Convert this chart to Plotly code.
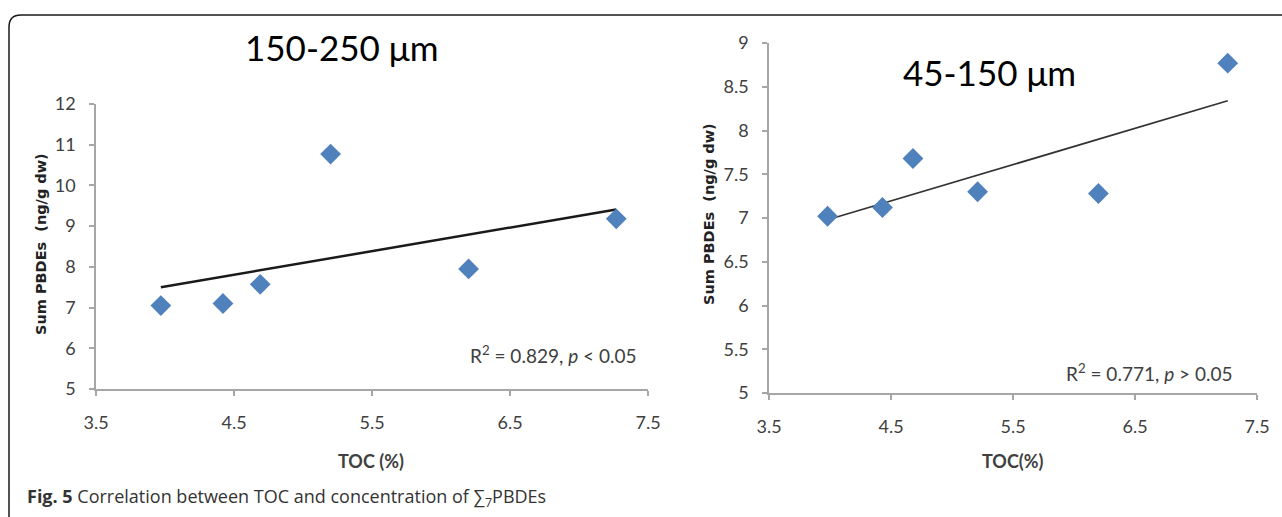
import plotly.graph_objects as go

# ---- data ----
toc_left = [3.97, 4.42, 4.69, 5.20, 6.20, 7.27]
pbde_left = [7.05, 7.10, 7.57, 10.77, 7.95, 9.18]
trend_left_x = [3.97, 7.27]
trend_left_y = [7.50, 9.41]

toc_right = [3.98, 4.43, 4.68, 5.21, 6.20, 7.26]
pbde_right = [7.02, 7.12, 7.68, 7.30, 7.28, 8.77]
trend_right_x = [3.98, 7.26]
trend_right_y = [6.98, 8.34]

x_ticks = [3.5, 4.5, 5.5, 6.5, 7.5]
y_ticks_left = [5, 6, 7, 8, 9, 10, 11, 12]
y_ticks_right = [5, 5.5, 6, 6.5, 7, 7.5, 8, 8.5, 9]

title_left = "150-250 μm"
title_right = "45-150 μm"
ann_left = "R<sup>2</sup> = 0.829, <i>p</i> < 0.05"
ann_right = "R<sup>2</sup> = 0.771, <i>p</i> > 0.05"
ytitle = "Sum PBDEs  (ng/g dw)"
xtitle_left = "TOC (%)"
xtitle_right = "TOC(%)"
caption = "<b>Fig. 5</b> Correlation between TOC and concentration of ∑<sub>7</sub>PBDEs"

W, H = 1282, 517
MARK = "#4F81BD"
AX = "#A6A6A6"
TXT = "#404040"
FONT = "Lato"

def px(x):
    return x / W

def py(y):
    return 1 - y / H

fig = go.Figure()

fig.add_trace(go.Scatter(x=trend_left_x, y=trend_left_y, mode="lines",
                         line=dict(color="#1a1a1a", width=2.5),
                         xaxis="x", yaxis="y", showlegend=False, hoverinfo="skip"))
fig.add_trace(go.Scatter(x=toc_left, y=pbde_left, mode="markers",
                         marker=dict(symbol="diamond", size=16, color=MARK),
                         xaxis="x", yaxis="y", showlegend=False))
fig.add_trace(go.Scatter(x=trend_right_x, y=trend_right_y, mode="lines",
                         line=dict(color="#333333", width=1.8),
                         xaxis="x2", yaxis="y2", showlegend=False, hoverinfo="skip"))
fig.add_trace(go.Scatter(x=toc_right, y=pbde_right, mode="markers",
                         marker=dict(symbol="diamond", size=16, color=MARK),
                         xaxis="x2", yaxis="y2", showlegend=False))

axis_common = dict(showline=True, linecolor=AX, linewidth=1.5, ticks="outside",
                   ticklen=5, tickcolor=AX, tickwidth=1.5, showgrid=False,
                   zeroline=False, automargin=False,
                   tickfont=dict(family=FONT, size=18, color=TXT),
                   fixedrange=True)

fig.update_layout(
    width=W, height=H,
    margin=dict(l=0, r=0, t=0, b=0, autoexpand=False),
    paper_bgcolor="white", plot_bgcolor="white",
    xaxis=dict(domain=[px(96), px(648)], range=[3.5, 7.5], tickvals=x_ticks,
               anchor="y", ticklabelstandoff=12, **axis_common),
    yaxis=dict(domain=[py(389), py(104)], range=[5, 12], tickvals=y_ticks_left,
               anchor="x", ticklabelstandoff=10, **axis_common),
    xaxis2=dict(domain=[px(769), px(1257)], range=[3.5, 7.5], tickvals=x_ticks,
                anchor="y2", ticklabelstandoff=12, **axis_common),
    yaxis2=dict(domain=[py(393), py(43)], range=[5, 9], tickvals=y_ticks_right,
                anchor="x2", ticklabelstandoff=10, **axis_common),
)

annots = [
    dict(text=title_left, x=px(341), y=py(47), font=dict(family=FONT, size=35, color="black")),
    dict(text=title_right, x=px(989), y=py(72), font=dict(family=FONT, size=35, color="black")),
    dict(text=ann_left, x=px(553), y=py(354), font=dict(family=FONT, size=19, color=TXT)),
    dict(text=ann_right, x=px(1149), y=py(372), font=dict(family=FONT, size=19, color=TXT)),
    dict(text="<b>" + xtitle_left + "</b>", x=px(371), y=py(461), font=dict(family=FONT, size=18, color=TXT)),
    dict(text="<b>" + xtitle_right + "</b>", x=px(1013), y=py(461), font=dict(family=FONT, size=18, color=TXT)),
    dict(text="<b>" + ytitle + "</b>", x=px(41), y=py(244), textangle=-90,
         font=dict(family="DejaVu Sans", size=14.5, color="#222222")),
    dict(text="<b>" + ytitle + "</b>", x=px(709), y=py(214), textangle=-90,
         font=dict(family="DejaVu Sans", size=14.5, color="#222222")),
]
for a in annots:
    fig.add_annotation(xref="paper", yref="paper", showarrow=False,
                       xanchor="center", yanchor="middle", **a)

fig.add_annotation(xref="paper", yref="paper", showarrow=False, text=caption,
                   x=px(25), y=py(497), xanchor="left", yanchor="middle",
                   font=dict(family="Open Sans", size=18, color="#333333"))

# rounded frame around the figure (top-left corner visible)
lx, ty, r = px(9), py(15), 12
path = (f"M {lx},-0.2 L {lx},{py(15 + r)} Q {lx},{ty} {px(9 + r)},{ty} L 1.2,{ty}")
fig.add_shape(type="path", path=path, xref="paper", yref="paper",
              line=dict(color="#1a1a1a", width=1.5))

fig.write_html("out.html")
